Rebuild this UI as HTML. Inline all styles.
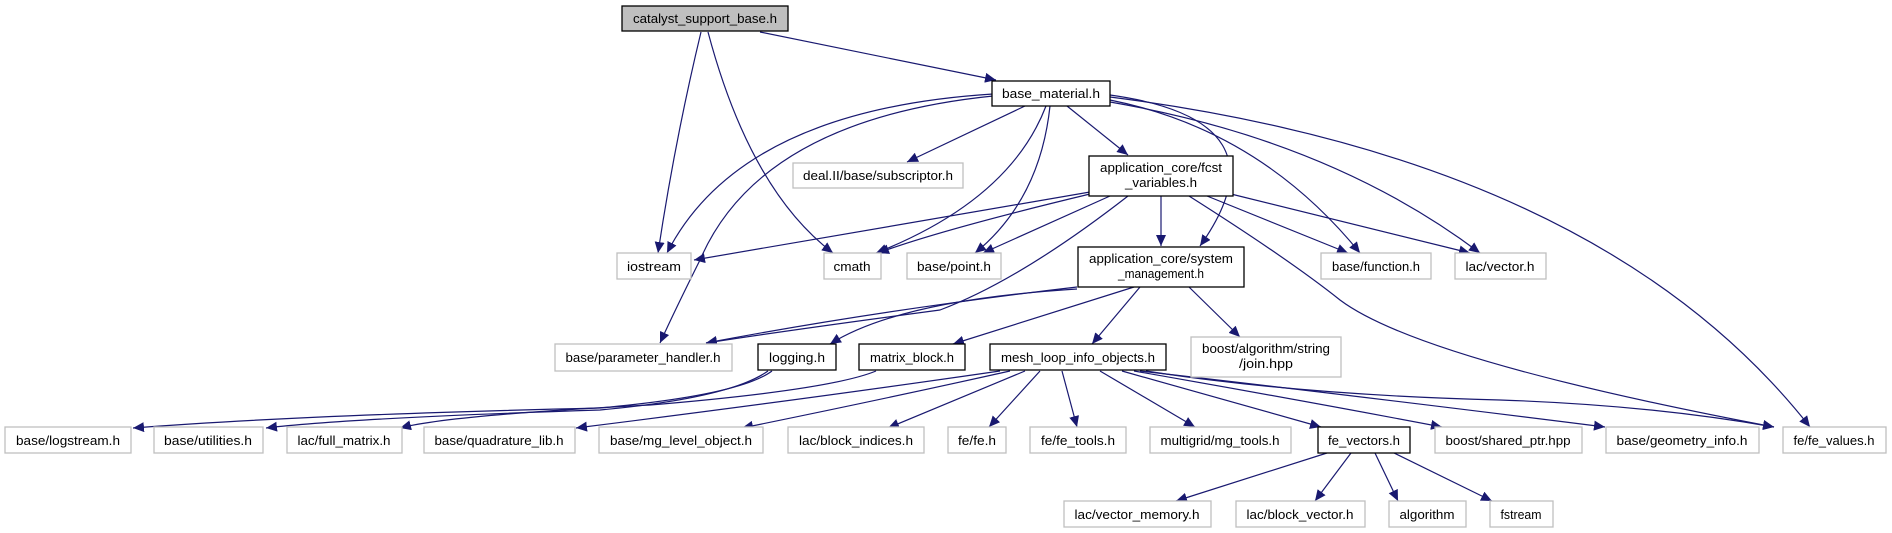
<!DOCTYPE html>
<html><head><meta charset="utf-8"><style>
html,body{margin:0;padding:0;background:#fff;}
svg{display:block;}
text{font-family:"Liberation Sans",Arial,sans-serif;font-size:13px;fill:#000;}
.g{fill:#fff;stroke:#bfbfbf;stroke-width:1.3;}
.b{fill:#fff;stroke:#000;stroke-width:1.3;}
.e{fill:none;stroke:#191970;stroke-width:1.2;}
</style></head><body>
<svg width="1892" height="533" viewBox="0 0 1892 533" xmlns="http://www.w3.org/2000/svg">
<defs>
<marker id="a" markerUnits="userSpaceOnUse" markerWidth="12" markerHeight="10" refX="11" refY="5" orient="auto">
<path d="M0,0 L11,5 L0,10 Z" fill="#191970"/>
</marker>
</defs>
<g marker-end="url(#a)">
<path class="e" d="M701,32 Q675,140 658,253"/>
<path class="e" d="M708,32 Q750,190 833,253"/>
<path class="e" d="M760,32 L996,80"/>
<path class="e" d="M993,94 Q740,110 667,253"/>
<path class="e" d="M993,96 Q760,120 700,260 Q675,310 660,343"/>
<path class="e" d="M1025,106 L907,162"/>
<path class="e" d="M1046,106 Q1010,200 876,253"/>
<path class="e" d="M1050,106 Q1040,200 975,253"/>
<path class="e" d="M1067,106 L1128,155"/>
<path class="e" d="M1110,95 Q1290,120 1200,246"/>
<path class="e" d="M1110,100 Q1260,130 1360,253"/>
<path class="e" d="M1110,102 Q1330,140 1480,253"/>
<path class="e" d="M1110,97 Q1600,160 1810,427"/>
<path class="e" d="M1090,192 L694,260"/>
<path class="e" d="M1090,194 Q940,230 878,253"/>
<path class="e" d="M1110,196 L983,253"/>
<path class="e" d="M1128,196 Q1020,280 940,310 Q790,330 706,343"/>
<path class="e" d="M1161,196 L1161,246"/>
<path class="e" d="M1207,196 L1348,253"/>
<path class="e" d="M1231,194 L1470,253"/>
<path class="e" d="M1189,196 Q1290,260 1340,300 Q1420,360 1774,427"/>
<path class="e" d="M1077,287 Q880,310 706,343"/>
<path class="e" d="M1077,289 Q900,300 830,344"/>
<path class="e" d="M1134,287 L953,344"/>
<path class="e" d="M1140,287 L1092,344"/>
<path class="e" d="M1189,287 L1240,337"/>
<path class="e" d="M772,371 Q740,395 600,408 Q300,415 133,428"/>
<path class="e" d="M768,371 Q730,398 600,410 Q350,418 266,428"/>
<path class="e" d="M876,371 Q830,390 650,405 Q450,415 400,428"/>
<path class="e" d="M1000,371 Q800,400 576,428"/>
<path class="e" d="M1010,371 Q880,400 742,428"/>
<path class="e" d="M1025,371 L888,428"/>
<path class="e" d="M1040,371 L989,427"/>
<path class="e" d="M1062,371 L1077,427"/>
<path class="e" d="M1100,371 L1195,427"/>
<path class="e" d="M1122,371 L1321,427"/>
<path class="e" d="M1134,371 Q1300,400 1442,427"/>
<path class="e" d="M1140,371 Q1350,395 1605,427"/>
<path class="e" d="M1146,371 Q1300,395 1500,400 Q1650,405 1774,427"/>
<path class="e" d="M1327,453 L1176,501"/>
<path class="e" d="M1351,453 L1315,501"/>
<path class="e" d="M1375,453 L1398,501"/>
<path class="e" d="M1394,453 L1492,501"/>
</g>
<rect x="622" y="6" width="166" height="25" fill="#bfbfbf" stroke="#000" stroke-width="1.3"/>
<text x="705" y="23" text-anchor="middle" textLength="144" lengthAdjust="spacingAndGlyphs">catalyst_support_base.h</text>
<rect class="b" x="992" y="81" width="118" height="25"/>
<text x="1051" y="98" text-anchor="middle" textLength="98" lengthAdjust="spacingAndGlyphs">base_material.h</text>
<rect class="g" x="793" y="163" width="170" height="25"/>
<text x="878" y="180" text-anchor="middle" textLength="150" lengthAdjust="spacingAndGlyphs">deal.II/base/subscriptor.h</text>
<rect class="b" x="1089" y="156" width="144" height="40"/>
<text x="1161" y="172" text-anchor="middle" textLength="122" lengthAdjust="spacingAndGlyphs">application_core/fcst</text>
<text x="1161" y="187" text-anchor="middle" textLength="72" lengthAdjust="spacingAndGlyphs">_variables.h</text>
<rect class="g" x="617" y="253" width="74" height="26"/>
<text x="654" y="271" text-anchor="middle" textLength="54" lengthAdjust="spacingAndGlyphs">iostream</text>
<rect class="g" x="824" y="253" width="57" height="26"/>
<text x="852" y="271" text-anchor="middle" textLength="37" lengthAdjust="spacingAndGlyphs">cmath</text>
<rect class="g" x="907" y="253" width="94" height="26"/>
<text x="954" y="271" text-anchor="middle" textLength="74" lengthAdjust="spacingAndGlyphs">base/point.h</text>
<rect class="b" x="1078" y="247" width="166" height="40"/>
<text x="1161" y="263" text-anchor="middle" textLength="144" lengthAdjust="spacingAndGlyphs">application_core/system</text>
<text x="1161" y="278" text-anchor="middle" textLength="86" lengthAdjust="spacingAndGlyphs">_management.h</text>
<rect class="g" x="1321" y="253" width="110" height="26"/>
<text x="1376" y="271" text-anchor="middle" textLength="88" lengthAdjust="spacingAndGlyphs">base/function.h</text>
<rect class="g" x="1455" y="253" width="91" height="26"/>
<text x="1500" y="271" text-anchor="middle" textLength="69" lengthAdjust="spacingAndGlyphs">lac/vector.h</text>
<rect class="g" x="555" y="344" width="177" height="27"/>
<text x="643" y="362" text-anchor="middle" textLength="155" lengthAdjust="spacingAndGlyphs">base/parameter_handler.h</text>
<rect class="b" x="758" y="344" width="78" height="26"/>
<text x="797" y="362" text-anchor="middle" textLength="56" lengthAdjust="spacingAndGlyphs">logging.h</text>
<rect class="b" x="859" y="344" width="106" height="26"/>
<text x="912" y="362" text-anchor="middle" textLength="84" lengthAdjust="spacingAndGlyphs">matrix_block.h</text>
<rect class="b" x="990" y="344" width="176" height="26"/>
<text x="1078" y="362" text-anchor="middle" textLength="154" lengthAdjust="spacingAndGlyphs">mesh_loop_info_objects.h</text>
<rect class="g" x="1191" y="337" width="150" height="40"/>
<text x="1266" y="353" text-anchor="middle" textLength="128" lengthAdjust="spacingAndGlyphs">boost/algorithm/string</text>
<text x="1266" y="368" text-anchor="middle" textLength="54" lengthAdjust="spacingAndGlyphs">/join.hpp</text>
<rect class="g" x="5" y="427" width="126" height="26"/>
<text x="68" y="445" text-anchor="middle" textLength="104" lengthAdjust="spacingAndGlyphs">base/logstream.h</text>
<rect class="g" x="154" y="427" width="109" height="26"/>
<text x="208" y="445" text-anchor="middle" textLength="88" lengthAdjust="spacingAndGlyphs">base/utilities.h</text>
<rect class="g" x="287" y="427" width="115" height="26"/>
<text x="344" y="445" text-anchor="middle" textLength="93" lengthAdjust="spacingAndGlyphs">lac/full_matrix.h</text>
<rect class="g" x="424" y="427" width="151" height="26"/>
<text x="499" y="445" text-anchor="middle" textLength="129" lengthAdjust="spacingAndGlyphs">base/quadrature_lib.h</text>
<rect class="g" x="599" y="427" width="164" height="26"/>
<text x="681" y="445" text-anchor="middle" textLength="142" lengthAdjust="spacingAndGlyphs">base/mg_level_object.h</text>
<rect class="g" x="788" y="427" width="136" height="26"/>
<text x="856" y="445" text-anchor="middle" textLength="114" lengthAdjust="spacingAndGlyphs">lac/block_indices.h</text>
<rect class="g" x="948" y="427" width="58" height="26"/>
<text x="977" y="445" text-anchor="middle" textLength="38" lengthAdjust="spacingAndGlyphs">fe/fe.h</text>
<rect class="g" x="1030" y="427" width="96" height="26"/>
<text x="1078" y="445" text-anchor="middle" textLength="74" lengthAdjust="spacingAndGlyphs">fe/fe_tools.h</text>
<rect class="g" x="1150" y="427" width="141" height="26"/>
<text x="1220" y="445" text-anchor="middle" textLength="119" lengthAdjust="spacingAndGlyphs">multigrid/mg_tools.h</text>
<rect class="b" x="1318" y="427" width="92" height="26"/>
<text x="1364" y="445" text-anchor="middle" textLength="72" lengthAdjust="spacingAndGlyphs">fe_vectors.h</text>
<rect class="g" x="1435" y="427" width="147" height="26"/>
<text x="1508" y="445" text-anchor="middle" textLength="125" lengthAdjust="spacingAndGlyphs">boost/shared_ptr.hpp</text>
<rect class="g" x="1606" y="427" width="153" height="26"/>
<text x="1682" y="445" text-anchor="middle" textLength="131" lengthAdjust="spacingAndGlyphs">base/geometry_info.h</text>
<rect class="g" x="1783" y="427" width="103" height="26"/>
<text x="1834" y="445" text-anchor="middle" textLength="81" lengthAdjust="spacingAndGlyphs">fe/fe_values.h</text>
<rect class="g" x="1064" y="501" width="147" height="26"/>
<text x="1137" y="519" text-anchor="middle" textLength="125" lengthAdjust="spacingAndGlyphs">lac/vector_memory.h</text>
<rect class="g" x="1236" y="501" width="129" height="26"/>
<text x="1300" y="519" text-anchor="middle" textLength="107" lengthAdjust="spacingAndGlyphs">lac/block_vector.h</text>
<rect class="g" x="1389" y="501" width="77" height="26"/>
<text x="1427" y="519" text-anchor="middle" textLength="55" lengthAdjust="spacingAndGlyphs">algorithm</text>
<rect class="g" x="1490" y="501" width="63" height="26"/>
<text x="1521" y="519" text-anchor="middle" textLength="41" lengthAdjust="spacingAndGlyphs">fstream</text>
</svg>
</body></html>
